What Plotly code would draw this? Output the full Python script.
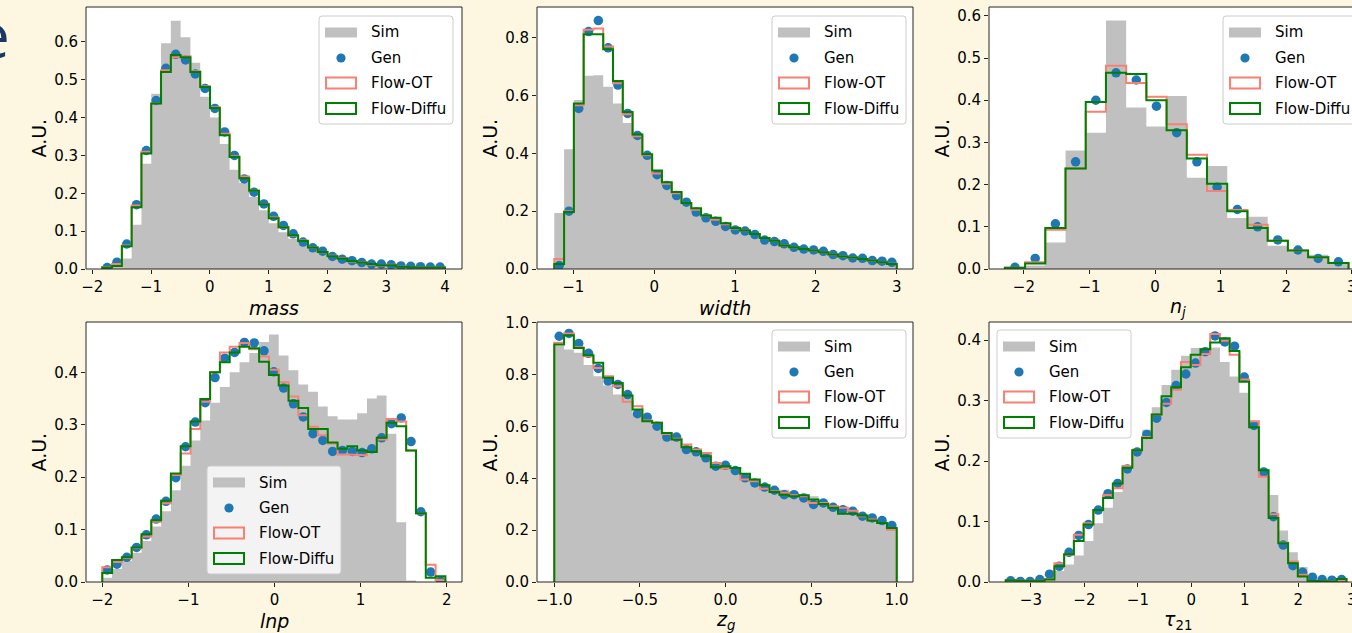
import numpy as np
import plotly.graph_objects as go

W, H = 1352, 633
BG = "#fdf7e1"
FONT = "DejaVu Sans"
C_SIM = "#c0c0c0"
C_GEN = "#1f77b4"
C_OT = "#fa8072"
C_DIF = "#008000"

# ---------------- data ----------------
mass_bins = (-1.83, 4.0, 35)
mass_sim = [0.002, 0.005, 0.028, 0.117, 0.278, 0.463, 0.596, 0.656, 0.612, 0.545, 0.455, 0.40, 0.33, 0.262, 0.227,
            0.19, 0.155, 0.121, 0.097, 0.08, 0.066, 0.05, 0.04, 0.029, 0.022, 0.018, 0.014, 0.011, 0.01, 0.008,
            0.006, 0.005, 0.004, 0.003, 0.003]
mass_gen = [0.004, 0.018, 0.066, 0.17, 0.313, 0.445, 0.53, 0.567, 0.552, 0.515, 0.477, 0.424, 0.362, 0.30, 0.238,
            0.203, 0.172, 0.139, 0.115, 0.093, 0.071, 0.056, 0.047, 0.033, 0.026, 0.022, 0.017, 0.013, 0.013,
            0.011, 0.008, 0.007, 0.006, 0.005, 0.005]
mass_ot = [0.005, 0.013, 0.062, 0.168, 0.31, 0.437, 0.525, 0.559, 0.562, 0.522, 0.483, 0.427, 0.357, 0.298, 0.244,
           0.207, 0.172, 0.136, 0.11, 0.088, 0.075, 0.057, 0.044, 0.035, 0.029, 0.02, 0.018, 0.012, 0.009, 0.011,
           0.006, 0.005, 0.004, 0.004, 0.004]
mass_diffu = [0.004, 0.008, 0.06, 0.163, 0.305, 0.437, 0.52, 0.565, 0.559, 0.52, 0.481, 0.425, 0.353, 0.296, 0.24,
              0.207, 0.171, 0.134, 0.11, 0.089, 0.074, 0.057, 0.045, 0.034, 0.028, 0.021, 0.017, 0.013, 0.01, 0.01,
              0.006, 0.005, 0.004, 0.003, 0.004]

width_bins = (-1.235, 3.0, 35)
width_sim = [0.194, 0.414, 0.584, 0.668, 0.67, 0.63, 0.572, 0.505, 0.457, 0.397, 0.33, 0.291, 0.257, 0.228, 0.202,
             0.18, 0.164, 0.15, 0.135, 0.127, 0.116, 0.10, 0.092, 0.081, 0.073, 0.066, 0.058, 0.052, 0.046, 0.04,
             0.035, 0.031, 0.027, 0.022, 0.017]
width_gen = [0.012, 0.20, 0.555, 0.821, 0.859, 0.765, 0.636, 0.538, 0.462, 0.393, 0.326, 0.289, 0.254, 0.231, 0.197,
             0.177, 0.165, 0.147, 0.135, 0.131, 0.119, 0.10, 0.095, 0.087, 0.075, 0.069, 0.066, 0.061, 0.05, 0.046,
             0.038, 0.037, 0.029, 0.027, 0.023]
width_ot = [0.035, 0.20, 0.566, 0.827, 0.832, 0.769, 0.642, 0.535, 0.459, 0.393, 0.33, 0.295, 0.262, 0.228, 0.205,
            0.185, 0.17, 0.155, 0.14, 0.133, 0.121, 0.107, 0.098, 0.081, 0.075, 0.069, 0.064, 0.058, 0.05, 0.043,
            0.04, 0.035, 0.029, 0.023, 0.018]
width_diffu = [0.017, 0.197, 0.572, 0.812, 0.812, 0.76, 0.65, 0.543, 0.465, 0.397, 0.341, 0.30, 0.266, 0.228, 0.21,
               0.185, 0.177, 0.158, 0.142, 0.133, 0.121, 0.107, 0.098, 0.081, 0.075, 0.069, 0.064, 0.058, 0.05,
               0.043, 0.04, 0.035, 0.029, 0.023, 0.017]

nj_bins = (-2.29, 2.95, 17)
nj_sim = [0.002, 0.008, 0.063, 0.281, 0.323, 0.589, 0.383, 0.338, 0.41, 0.216, 0.244, 0.121, 0.124, 0.055, 0.04,
          0.034, 0.016]
nj_gen = [0.004, 0.025, 0.107, 0.254, 0.40, 0.465, 0.448, 0.386, 0.323, 0.254, 0.194, 0.141, 0.10, 0.069, 0.045,
          0.025, 0.017]
nj_ot = [0.003, 0.016, 0.093, 0.238, 0.373, 0.482, 0.441, 0.408, 0.343, 0.271, 0.185, 0.14, 0.105, 0.067, 0.044,
         0.028, 0.014]
nj_diffu = [0.003, 0.013, 0.097, 0.238, 0.396, 0.465, 0.462, 0.40, 0.329, 0.262, 0.202, 0.137, 0.097, 0.067, 0.044,
            0.028, 0.014]

lnp_bins = (-2.0, 1.985, 35)
lnp_sim = [0.008, 0.025, 0.04, 0.056, 0.078, 0.106, 0.135, 0.175, 0.222, 0.27, 0.308, 0.342, 0.372, 0.40, 0.419,
           0.437, 0.458, 0.472, 0.432, 0.404, 0.377, 0.363, 0.335, 0.316, 0.31, 0.31, 0.322, 0.35, 0.356, 0.283,
           0.114, 0.003, 0.0, 0.0, 0.0]
lnp_gen = [0.023, 0.034, 0.047, 0.066, 0.09, 0.12, 0.154, 0.199, 0.258, 0.305, 0.342, 0.39, 0.427, 0.438, 0.457,
           0.456, 0.441, 0.401, 0.37, 0.34, 0.315, 0.283, 0.27, 0.249, 0.251, 0.249, 0.247, 0.254, 0.275, 0.302,
           0.313, 0.268, 0.134, 0.019, 0.002]
lnp_ot = [0.028, 0.038, 0.046, 0.065, 0.087, 0.115, 0.15, 0.204, 0.245, 0.292, 0.344, 0.40, 0.438, 0.449, 0.456,
          0.444, 0.43, 0.405, 0.381, 0.354, 0.318, 0.296, 0.28, 0.264, 0.243, 0.243, 0.242, 0.248, 0.272, 0.311,
          0.306, 0.251, 0.131, 0.033, 0.004]
lnp_diffu = [0.017, 0.042, 0.047, 0.066, 0.091, 0.118, 0.155, 0.207, 0.259, 0.306, 0.349, 0.40, 0.419, 0.438, 0.449,
             0.446, 0.42, 0.395, 0.375, 0.346, 0.332, 0.292, 0.292, 0.266, 0.254, 0.259, 0.251, 0.248, 0.275, 0.304,
             0.297, 0.251, 0.131, 0.008, 0.011]

zg_bins = (-1.0, 1.0, 35)
zg_sim = [0.912, 0.897, 0.884, 0.837, 0.794, 0.758, 0.723, 0.71, 0.646, 0.627, 0.607, 0.569, 0.55, 0.524, 0.507,
          0.494, 0.453, 0.447, 0.434, 0.412, 0.389, 0.373, 0.363, 0.356, 0.344, 0.331, 0.331, 0.311, 0.288, 0.273,
          0.266, 0.254, 0.241, 0.232, 0.208]
zg_gen = [0.948, 0.959, 0.92, 0.882, 0.824, 0.775, 0.762, 0.723, 0.649, 0.636, 0.601, 0.559, 0.559, 0.511, 0.502,
          0.479, 0.447, 0.45, 0.43, 0.402, 0.382, 0.366, 0.354, 0.337, 0.337, 0.324, 0.299, 0.305, 0.288, 0.279,
          0.273, 0.254, 0.247, 0.237, 0.218]
zg_ot = [0.923, 0.959, 0.906, 0.871, 0.826, 0.794, 0.755, 0.695, 0.678, 0.623, 0.614, 0.571, 0.553, 0.53, 0.511,
         0.498, 0.459, 0.438, 0.44, 0.395, 0.389, 0.36, 0.35, 0.344, 0.335, 0.331, 0.305, 0.305, 0.292, 0.286,
         0.275, 0.254, 0.241, 0.228, 0.202]
zg_diffu = [0.916, 0.952, 0.903, 0.875, 0.846, 0.788, 0.768, 0.719, 0.665, 0.62, 0.614, 0.575, 0.55, 0.52, 0.504,
            0.485, 0.443, 0.447, 0.44, 0.418, 0.395, 0.373, 0.347, 0.337, 0.331, 0.335, 0.318, 0.301, 0.286, 0.263,
            0.263, 0.257, 0.237, 0.228, 0.208]

tau_bins = (-3.47, 2.9, 35)
tau_sim = [0.0, 0.0, 0.0, 0.001, 0.004, 0.018, 0.029, 0.044, 0.068, 0.097, 0.123, 0.149, 0.183, 0.221, 0.252,
           0.289, 0.326, 0.351, 0.374, 0.387, 0.387, 0.388, 0.364, 0.34, 0.313, 0.259, 0.185, 0.144, 0.085, 0.049,
           0.025, 0.009, 0.003, 0.002, 0.002]
tau_gen = [0.002, 0.001, 0.001, 0.004, 0.013, 0.026, 0.049, 0.077, 0.095, 0.119, 0.146, 0.163, 0.187, 0.215, 0.244,
           0.271, 0.297, 0.325, 0.344, 0.362, 0.381, 0.407, 0.397, 0.39, 0.339, 0.259, 0.182, 0.108, 0.061, 0.027,
           0.016, 0.008, 0.004, 0.003, 0.004]
tau_ot = [0.003, 0.002, 0.002, 0.002, 0.005, 0.031, 0.045, 0.078, 0.097, 0.119, 0.144, 0.155, 0.192, 0.218, 0.24,
          0.277, 0.295, 0.318, 0.364, 0.359, 0.377, 0.41, 0.399, 0.376, 0.335, 0.266, 0.174, 0.112, 0.065, 0.034,
          0.012, 0.002, 0.001, 0.001, 0.003]
tau_diffu = [0.003, 0.002, 0.002, 0.002, 0.004, 0.026, 0.046, 0.068, 0.095, 0.119, 0.139, 0.163, 0.189, 0.218, 0.238,
             0.277, 0.307, 0.322, 0.355, 0.376, 0.385, 0.396, 0.403, 0.382, 0.331, 0.256, 0.185, 0.106, 0.064, 0.031,
             0.009, 0.002, 0.001, 0.001, 0.005]

mass_xticks = [-2, -1, 0, 1, 2, 3, 4]
width_xticks = [-1, 0, 1, 2, 3]
nj_xticks = [-2, -1, 0, 1, 2, 3]
lnp_xticks = [-2, -1, 0, 1, 2]
zg_xticks = [-1.0, -0.5, 0.0, 0.5, 1.0]
tau_xticks = [-3, -2, -1, 0, 1, 2, 3]
mass_yticks = [0.0, 0.1, 0.2, 0.3, 0.4, 0.5, 0.6]
width_yticks = [0.0, 0.2, 0.4, 0.6, 0.8]
nj_yticks = [0.0, 0.1, 0.2, 0.3, 0.4, 0.5, 0.6]
lnp_yticks = [0.0, 0.1, 0.2, 0.3, 0.4]
zg_yticks = [0.0, 0.2, 0.4, 0.6, 0.8, 1.0]
tau_yticks = [0.0, 0.1, 0.2, 0.3, 0.4]

series_names = ["Sim", "Gen", "Flow-OT", "Flow-Diffu"]

# ---------------- layout geometry (pixels) ----------------
XC = (1366 - 989) / (1352 - 989)
panels = [
    dict(bins=mass_bins, sim=mass_sim, gen=mass_gen, ot=mass_ot, dif=mass_diffu, xt=mass_xticks, yt=mass_yticks,
         xfmt="{:.0f}", label="<i>mass</i>", box=(86, 462, 7, 269), xr=(-2.107, 4.289), yr=(0, 0.692),
         leg=(319, 16), xclip=1.0),
    dict(bins=width_bins, sim=width_sim, gen=width_gen, ot=width_ot, dif=width_diffu, xt=width_xticks,
         yt=width_yticks, xfmt="{:.0f}", label="<i>width</i>", box=(537, 913, 7, 269), xr=(-1.449, 3.201),
         yr=(0, 0.906), leg=(772, 16), xclip=1.0),
    dict(bins=nj_bins, sim=nj_sim, gen=nj_gen, ot=nj_ot, dif=nj_diffu, xt=nj_xticks, yt=nj_yticks, xfmt="{:.0f}",
         label="<i>n</i><sub><i>j</i></sub>", box=(989, 1352, 7, 269), xr=(-2.532, 3.003), yr=(0, 0.621),
         leg=(1223, 16), xclip=XC),
    dict(bins=lnp_bins, sim=lnp_sim, gen=lnp_gen, ot=lnp_ot, dif=lnp_diffu, xt=lnp_xticks, yt=lnp_yticks,
         xfmt="{:.0f}", label="<i>lnp</i>", box=(86, 462, 322, 582), xr=(-2.189, 2.178), yr=(0, 0.496),
         leg=(207, 466), xclip=1.0),
    dict(bins=zg_bins, sim=zg_sim, gen=zg_gen, ot=zg_ot, dif=zg_diffu, xt=zg_xticks, yt=zg_yticks, xfmt="{:.1f}",
         label="<i>z</i><sub><i>g</i></sub>", box=(537, 913, 322, 582), xr=(-1.101, 1.095), yr=(0, 1.003),
         leg=(772, 330), xclip=1.0),
    dict(bins=tau_bins, sim=tau_sim, gen=tau_gen, ot=tau_ot, dif=tau_diffu, xt=tau_xticks, yt=tau_yticks,
         xfmt="{:.0f}", label="<i>τ</i><sub>21</sub>", box=(989, 1352, 322, 582), xr=(-3.783, 3.003),
         yr=(0, 0.43), leg=(997, 330), xclip=XC),
]


def px(xp):
    return xp / W


def py(yp):
    return 1 - yp / H


def fmt(v, f):
    return f.format(v).replace("-", "\u2212")


def step_outline(edges, vals):
    sx, sy = [edges[0]], [0.0]
    for i, v in enumerate(vals):
        sx += [edges[i], edges[i + 1]]
        sy += [v, v]
    sx.append(edges[-1])
    sy.append(0.0)
    return sx, sy


fig = go.Figure()
layout = dict(template="none", width=W, height=H, margin=dict(l=0, r=0, t=0, b=0, pad=0, autoexpand=False),
              paper_bgcolor=BG, plot_bgcolor="white", showlegend=False,
              font=dict(family=FONT, size=15, color="black"))
shapes = []
annotations = []

for k, p in enumerate(panels):
    n = k + 1
    xa = "x" if n == 1 else f"x{n}"
    ya = "y" if n == 1 else f"y{n}"
    lo, hi, nb = p["bins"]
    edges = np.linspace(lo, hi, nb + 1)
    centers = 0.5 * (edges[:-1] + edges[1:])

    sx, sy = step_outline(edges, p["sim"])
    fig.add_trace(go.Scatter(x=sx, y=sy, mode="lines", fill="toself", fillcolor=C_SIM, line=dict(width=0),
                             xaxis=xa, yaxis=ya, name="Sim", hoverinfo="skip"))
    fig.add_trace(go.Scatter(x=centers, y=p["gen"], mode="markers", marker=dict(color=C_GEN, size=9.5),
                             xaxis=xa, yaxis=ya, name="Gen"))
    for vals, col, nm in [(p["ot"], C_OT, "Flow-OT"), (p["dif"], C_DIF, "Flow-Diffu")]:
        sx, sy = step_outline(edges, vals)
        fig.add_trace(go.Scatter(x=sx, y=sy, mode="lines", line=dict(color=col, width=2), xaxis=xa, yaxis=ya,
                                 name=nm))

    x0, x1, y0, y1 = p["box"]
    axkey = "xaxis" if n == 1 else f"xaxis{n}"
    aykey = "yaxis" if n == 1 else f"yaxis{n}"
    common = dict(showgrid=False, zeroline=False, showline=False, ticks="outside", ticklen=4, tickwidth=1,
                  tickcolor="#222", automargin=False, ticklabeloverflow="allow",
                  tickfont=dict(family=FONT, size=15, color="black"))
    layout[axkey] = dict(domain=[px(x0), px(x1)], range=list(p["xr"]), anchor=ya, tickvals=p["xt"],
                         ticktext=[fmt(v, p["xfmt"]) for v in p["xt"]], **common)
    layout[aykey] = dict(domain=[py(y1), py(y0)], range=list(p["yr"]), anchor=xa, tickvals=p["yt"],
                         ticktext=[fmt(v, "{:.1f}") for v in p["yt"]], **common)

    shapes.append(dict(type="rect", xref=f"{xa} domain", yref=f"{ya} domain", x0=0, x1=p["xclip"], y0=0, y1=1,
                       line=dict(color="#262626", width=1), fillcolor="rgba(0,0,0,0)", layer="above"))

    cx = (x0 + (x0 + (x1 - x0) * p["xclip"])) / 2
    annotations.append(dict(text=p["label"], x=px(cx), y=py(y1 + 38.5), xref="paper", yref="paper",
                            showarrow=False, xanchor="center", yanchor="middle",
                            font=dict(family=FONT, size=19, color="black")))
    annotations.append(dict(text="A.U.", x=px(x0 - 47.5), y=py((y0 + y1) / 2), xref="paper", yref="paper",
                            showarrow=False, textangle=-90, xanchor="center", yanchor="middle",
                            font=dict(family=FONT, size=19, color="black")))

    L, T = p["leg"]
    bwid, bht, r = 134, 108, 3
    path = (f"M {px(L + r)},{py(T)} L {px(L + bwid - r)},{py(T)} Q {px(L + bwid)},{py(T)} {px(L + bwid)},{py(T + r)} "
            f"L {px(L + bwid)},{py(T + bht - r)} Q {px(L + bwid)},{py(T + bht)} {px(L + bwid - r)},{py(T + bht)} "
            f"L {px(L + r)},{py(T + bht)} Q {px(L)},{py(T + bht)} {px(L)},{py(T + bht - r)} "
            f"L {px(L)},{py(T + r)} Q {px(L)},{py(T)} {px(L + r)},{py(T)} Z")
    shapes.append(dict(type="path", xref="paper", yref="paper", path=path, fillcolor="rgba(255,255,255,0.8)",
                       line=dict(color="#cccccc", width=1), layer="above"))
    rows = [16.5, 42, 67, 92.5]
    shapes.append(dict(type="rect", xref="paper", yref="paper", x0=px(L + 6), x1=px(L + 38), y0=py(T + rows[0] - 5),
                       y1=py(T + rows[0] + 5), fillcolor=C_SIM, line=dict(width=0), layer="above"))
    shapes.append(dict(type="circle", xref="paper", yref="paper", x0=px(L + 22 - 4.6), x1=px(L + 22 + 4.6),
                       y0=py(T + rows[1] - 4.6), y1=py(T + rows[1] + 4.6), fillcolor=C_GEN, line=dict(width=0),
                       layer="above"))
    for ri, col in [(2, C_OT), (3, C_DIF)]:
        shapes.append(dict(type="rect", xref="paper", yref="paper", x0=px(L + 7), x1=px(L + 37),
                           y0=py(T + rows[ri] - 5.5), y1=py(T + rows[ri] + 5.5), fillcolor="rgba(0,0,0,0)",
                           line=dict(color=col, width=2), layer="above"))
    for ri, nm in enumerate(series_names):
        annotations.append(dict(text=nm, x=px(L + 50), y=py(T + rows[ri]), xref="paper", yref="paper",
                                showarrow=False, xanchor="left", yanchor="middle",
                                font=dict(family=FONT, size=15, color="black")))

# partial slide letter cut by the left edge
annotations.append(dict(text="e", x=px(12), y=py(34), xref="paper", yref="paper", showarrow=False,
                        xanchor="right", yanchor="middle", font=dict(family="Open Sans", size=62, color="#1c3764")))

layout["shapes"] = shapes
layout["annotations"] = annotations
fig.update_layout(**layout)
fig.write_html("out.html", config={"displayModeBar": False, "responsive": False},
               post_script="document.body.style.margin='0';document.body.style.padding='0';"
                           "document.documentElement.style.overflow='hidden';")
